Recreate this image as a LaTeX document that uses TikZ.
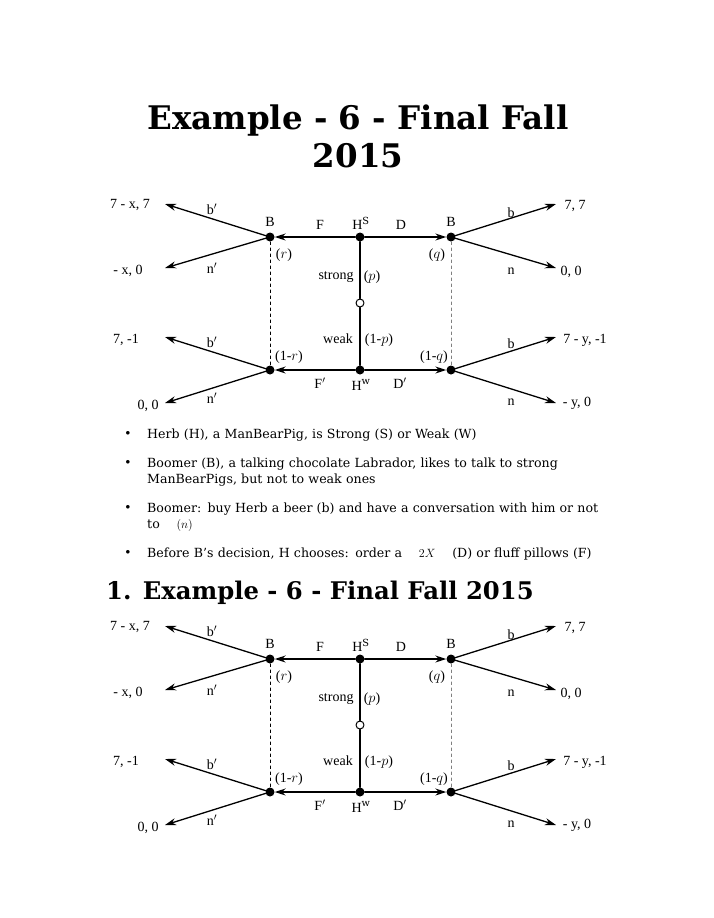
\documentclass[tikz,border=0pt]{standalone}
\usepackage{fontspec}
\setmainfont{DejaVu Serif}
\newfontfamily\treefont{Liberation Serif}
\usetikzlibrary{arrows.meta}

\begin{document}
\begin{tikzpicture}[line cap=round,line join=round,x=1pt,y=-1pt,
  dot/.style={circle,fill=black,inner sep=0pt,minimum size=9pt},
  odot/.style={circle,draw=black,line width=1pt,fill=white,inner sep=0pt,minimum size=8pt},
  lbl/.style={font=\treefont\fontsize{14}{16}\selectfont},
  move/.style={-{Stealth[length=11pt,width=7pt]},line width=1.3pt},
  bullet/.style={anchor=base west,font=\fontsize{12.6}{16}\selectfont,align=left,text width=470pt,inner sep=0pt}]
\useasboundingbox (0,0) rectangle (714,918);

% titles
\node[font=\bfseries\fontsize{32.5}{38}\selectfont,align=center] (title) at (358,136) {Example - 6 - Final Fall\\2015};
\node[font=\bfseries\fontsize{24.3}{28}\selectfont,anchor=west,inner sep=0pt] (head) at (106,593) {1. Example - 6 - Final Fall 2015};

% bullets
\foreach \y/\t in {438/{Herb (H), a ManBearPig, is Strong (S) or Weak (W)},
  467/{Boomer (B), a talking chocolate Labrador, likes to talk to strong\\ManBearPigs, but not to weak ones},
  512/{Boomer: buy Herb a beer (b) and have a conversation with him or not\\to \quad $(n)$},
  557/{Before B's decision, H chooses: order a \quad $2X$ \quad (D) or fluff pillows (F)}}{
  \node[font=\small] at (128,\y-5) {$\bullet$};
  \node[bullet] at (147,\y) {\t};
}

% the two copies of the game tree
\foreach \p/\dy in {a/0,b/422}{
\begin{scope}[yshift=-\dy pt]
\node[dot] (\p BS) at (270,237) {};
\node[dot] (\p HS) at (360,237) {};
\node[dot] (\p DS) at (451,237) {};
\node[odot] (\p N) at (360,303) {};
\node[dot] (\p BW) at (270,370) {};
\node[dot] (\p HW) at (360,370) {};
\node[dot] (\p DW) at (451,370) {};

\coordinate (\p e1) at (165,204);
\coordinate (\p e2) at (165,268);
\coordinate (\p e3) at (556,204);
\coordinate (\p e4) at (556,268);
\coordinate (\p e5) at (165,337);
\coordinate (\p e6) at (165,403);
\coordinate (\p e7) at (556,337);
\coordinate (\p e8) at (556,403);

\draw[move] (\p HS) -- (\p BS);
\draw[move] (\p HS) -- (\p DS);
\draw[move] (\p HW) -- (\p BW);
\draw[move] (\p HW) -- (\p DW);
\draw[line width=1.3pt] (\p HS) -- (\p N) -- (\p HW);
\draw[dashed] (\p BS) -- (\p BW);
\draw[dashed,gray] (\p DS) -- (\p DW);

\draw[move] (\p BS) -- (\p e1);
\draw[move] (\p BS) -- (\p e2);
\draw[move] (\p DS) -- (\p e3);
\draw[move] (\p DS) -- (\p e4);
\draw[move] (\p BW) -- (\p e5);
\draw[move] (\p BW) -- (\p e6);
\draw[move] (\p DW) -- (\p e7);
\draw[move] (\p DW) -- (\p e8);

\begin{scope}[every node/.style={lbl}]
\node at (130,205) {7 - x, 7};
\node at (128,271) {- x, 0};
\node at (575,206) {7, 7};
\node at (571,272) {0, 0};
\node at (126,340) {7, -1};
\node at (148,406) {0, 0};
\node at (585,340) {7 - y, -1};
\node at (577,403) {- y, 0};
\node at (212,209) {b$'$};
\node at (212,268) {n$'$};
\node at (511,213) {b};
\node at (511,271) {n};
\node at (212,342) {b$'$};
\node at (212,398) {n$'$};
\node at (511,344) {b};
\node at (511,402) {n};
\node at (270,222) {B};
\node at (451,222) {B};
\node at (320,225) {F};
\node at (361,223) {H$^{\mathrm{S}}$};
\node at (401,225) {D};
\node at (284,255) {($r$)};
\node at (437,255) {($q$)};
\node at (336,277) {strong};
\node at (372,277) {($p$)};
\node at (338,339) {weak};
\node at (379,340) {(1-$p$)};
\node at (289,357) {(1-$r$)};
\node at (434,357) {(1-$q$)};
\node at (320,383) {F$'$};
\node at (361,385) {H$^{\mathrm{w}}$};
\node at (400,383) {D$'$};
\end{scope}
\end{scope}
}
\end{tikzpicture}
\end{document}
